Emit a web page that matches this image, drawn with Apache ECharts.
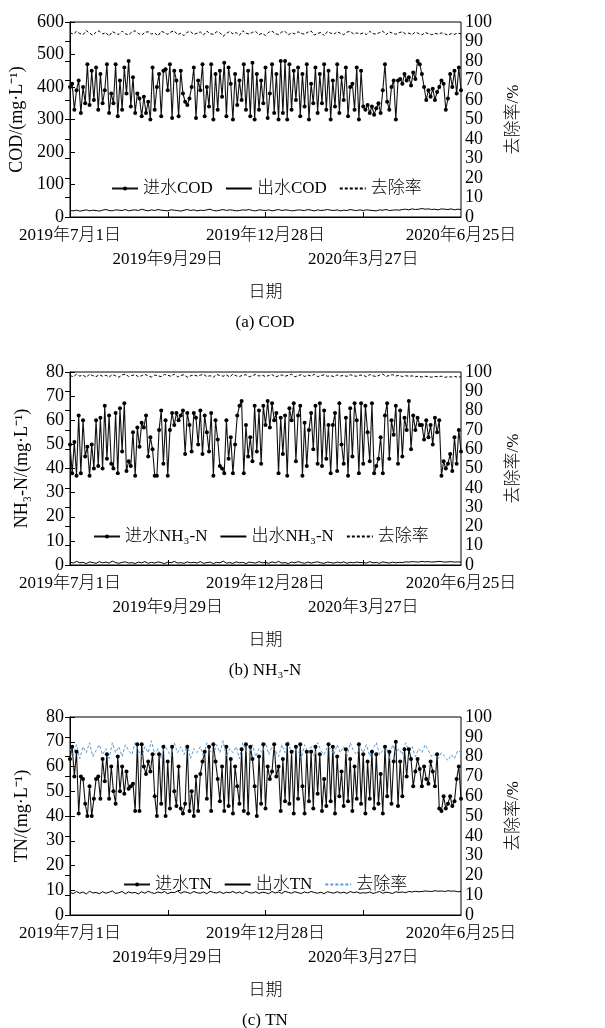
<!DOCTYPE html>
<html>
<head>
<meta charset="utf-8">
<script src="https://cdn.jsdelivr.net/npm/echarts@6/dist/echarts.min.js"></script>
<style>
  html, body { margin: 0; padding: 0; background: #fff; }
  #chart { width: 605px; height: 1028px; }
</style>
</head>
<body>
<div id="chart"></div>
<script>
// x 轴: 自 2019-07-01 起的天数, 每 90 天一个刻度
const xTickLabels = ['2019年7月1日', '2019年9月29日', '2019年12月28日', '2020年3月27日', '2020年6月25日'];

// 进水 (每 2 天一个点)
const codIn = [
  400, 410, 330, 390, 420, 320, 400, 350, 470, 345,
  450, 360, 460, 330, 440, 350, 390, 470, 320, 380,
  350, 470, 310, 420, 330, 460, 380, 480, 340, 430,
  320, 380, 365, 310, 370, 320, 355, 300, 460, 330,
  400, 440, 310, 450, 455, 390, 470, 305, 450, 420,
  310, 450, 380, 355, 345, 365, 400, 460, 305, 420,
  390, 470, 310, 400, 340, 470, 300, 440, 330, 450,
  370, 475, 310, 460, 410, 300, 440, 345, 420, 360,
  470, 330, 450, 310, 475, 300, 440, 330, 420, 350,
  460, 305, 380, 470, 320, 440, 300, 480, 320, 480,
  300, 470, 330, 450, 360, 460, 310, 440, 340, 470,
  300, 410, 350, 460, 320, 440, 350, 470, 330, 450,
  300, 420, 340, 470, 320, 430, 360, 460, 310, 400,
  410, 330, 460, 300, 450, 340,
  330, 345, 320, 340, 315, 335, 350, 320, 390,
  470, 355, 330, 400, 420,
  300, 420, 425, 410, 440, 420, 430, 405, 445, 425,
  480, 470, 440, 400, 360, 390, 370, 395, 360, 385,
  400, 420, 410, 330, 365, 440, 400, 450, 380, 460, 390
];
const nh3In = [
  50, 38, 51, 37, 62, 38, 60, 45, 49, 37,
  50, 40, 60, 41, 61, 40, 66, 44, 62, 42,
  40, 63, 38, 65, 47, 67, 39, 43, 41, 55,
  37, 57, 49, 59, 57, 62, 45, 53, 48, 37,
  37, 56, 64, 42, 60, 37, 56, 63, 58, 63,
  60, 62, 64, 46, 63, 58, 47, 63, 61, 50,
  64, 46, 62, 55, 47, 63, 37, 60, 52, 41,
  40, 38, 60, 44, 53, 38, 50, 62, 66, 68,
  38, 58, 45, 53, 43, 66, 47, 64, 42, 66,
  58, 68, 57, 67, 60, 63, 38, 61, 46, 62,
  37, 65, 60, 67, 43, 62, 66, 37, 59, 41,
  56, 63, 48, 66, 42, 67, 41, 64, 44, 58,
  38, 58, 63, 39, 67, 50, 42, 61, 37, 65,
  45, 67, 60, 38, 67, 42, 66, 55, 43, 67,
  38, 41, 44, 53, 38, 62, 67, 44, 60, 54,
  66, 42, 64, 45, 61, 56, 68, 48, 62, 56,
  61, 58, 58, 52, 60, 53, 58, 50, 61, 55,
  60, 37, 43, 40, 42, 46, 39, 53, 42, 56, 47
];
const tnIn = [
  63, 68, 56, 66, 41, 56, 55, 45, 40, 52,
  40, 47, 55, 56, 47, 63, 54, 65, 47, 60,
  50, 45, 64, 50, 60, 49, 58, 51, 52, 53,
  42, 69, 42, 69, 60, 57, 62, 58, 65, 48,
  40, 65, 45, 68, 40, 62, 43, 68, 50, 44,
  60, 43, 41, 45, 68, 42, 50, 40, 56, 42,
  57, 62, 66, 47, 68, 42, 69, 62, 55, 46,
  60, 42, 68, 44, 63, 41, 60, 52, 45, 67,
  42, 69, 41, 68, 63, 52, 40, 64, 45, 69,
  43, 60, 55, 58, 69, 56, 60, 42, 63, 46,
  69, 45, 66, 41, 68, 47, 69, 52, 41, 66,
  46, 66, 43, 68, 49, 65, 42, 55, 44, 69,
  46, 68, 41, 64, 48, 58, 44, 67, 46, 63,
  42, 60, 47, 69, 45, 65, 41, 62, 47, 66,
  43, 65, 45, 57, 41, 68, 48, 66, 45, 62,
  70, 44, 62, 48, 67, 56, 67, 63, 52, 58,
  63, 59, 52, 60, 55, 53, 62, 58, 52, 65,
  43, 42, 48, 43, 45, 48, 44, 46, 55, 60, 47
];

// 出水 (每 3 天一个点)
const codOut = [
  20, 19, 21, 18, 20, 22, 19, 21, 20, 18, 21, 23, 20, 19, 22, 21, 20, 23, 19, 21,
  22, 20, 24, 21, 19, 22, 20, 23, 21, 20, 19, 22, 21, 20, 18, 21, 23, 20, 22, 19,
  21, 20, 22, 24, 20, 19, 21, 23, 20, 22, 21, 19, 20, 22, 21, 23, 20, 19, 22, 21,
  20, 22, 19, 21, 23, 20, 22, 21, 19, 20, 22, 21, 20, 23, 21, 19, 22, 20, 21, 23,
  21, 20, 22, 19, 21, 20, 23, 21, 20, 22,
  20, 22, 21, 20, 19, 22, 21, 23, 20, 21, 22, 21, 23, 24, 22, 25, 23, 24, 26, 24,
  25, 23, 24, 22, 25, 24, 23, 25, 22, 24, 23
];
const nh3Out = [
  1.2, 0.8, 1.5, 0.9, 1.1, 0.6, 1.3, 1.0, 0.7, 1.4, 0.9, 1.2, 0.8, 1.6, 1.0, 0.7, 1.1, 1.3, 0.8, 1.0,
  0.6, 1.2, 0.9, 1.4, 0.7, 1.1, 0.8, 1.3, 1.0, 0.6, 1.2, 0.9, 1.5, 0.8, 1.0, 0.7, 1.3, 0.9, 1.1, 0.8,
  1.4, 0.7, 1.0, 1.2, 0.6, 1.1, 0.9, 1.6, 0.8, 1.0, 0.7, 1.3, 0.9, 1.1, 0.6, 1.2, 1.0, 0.8, 1.4, 0.9,
  1.1, 0.7, 1.3, 0.9, 1.5, 0.8, 1.0, 0.6, 1.2, 0.9, 1.4, 1.0, 0.7, 1.2, 0.8, 1.1, 1.3, 0.9, 0.7, 1.2,
  1.0, 0.8, 1.2, 0.9, 1.3, 0.7, 1.1, 0.9, 1.2, 1.0,
  1.0, 0.8, 1.4, 0.9, 1.1, 0.7, 1.3, 1.0, 0.8, 1.2, 0.9, 1.1, 1.0, 1.3, 1.2, 1.4, 1.3, 1.2, 1.5, 1.3,
  1.4, 1.2, 1.3, 1.5, 1.4, 1.2, 1.3, 1.4, 1.2, 1.3, 1.2
];
const tnOut = [
  9.2, 8.6, 9.5, 8.8, 9.3, 8.5, 9.6, 8.9, 9.1, 8.6, 9.4, 8.8, 9.2, 9.7, 8.7, 9.0, 9.5, 8.6, 9.3, 8.9,
  9.1, 8.5, 9.4, 8.8, 9.6, 9.0, 8.7, 9.3, 8.9, 9.5, 8.6, 9.2, 9.0, 9.7, 8.8, 9.4, 9.1, 8.7, 9.5, 9.0,
  8.8, 9.3, 8.6, 9.6, 9.1, 8.9, 9.4, 8.7, 9.2, 9.0, 9.5, 8.8, 9.3, 8.6, 9.7, 9.0, 8.9, 9.4, 8.7, 9.2,
  9.0, 8.6, 9.5, 8.9, 9.3, 8.7, 9.6, 9.1, 8.8, 9.4, 9.0, 8.7, 9.3, 8.9, 9.5, 9.1, 8.8, 9.2, 8.6, 9.4,
  9.1, 8.8, 9.4, 8.9, 9.2, 8.7, 9.5, 9.0, 9.3, 8.8,
  9.0, 8.9, 9.3, 8.7, 9.1, 9.5, 8.8, 9.2, 9.0, 8.7, 9.4, 9.1, 9.3, 9.0, 9.5, 9.3, 9.6, 9.4, 9.5, 9.7,
  9.6, 9.5, 9.8, 9.6, 9.7, 9.5, 9.8, 9.6, 9.7, 9.4, 9.5
];

// 去除率/% (每 3 天一个点)
const codRate = [
  94.5, 93.8, 95.2, 94.1, 93.5, 95.6, 94.3, 93.2, 94.8, 95.4, 93.9, 94.6, 92.8, 95.1, 94.2, 93.6, 95.3, 94.0, 93.4, 94.9,
  95.5, 94.1, 93.3, 94.7, 95.0, 93.8, 94.4, 92.9, 95.2, 94.6, 93.7, 94.9, 95.4, 93.5, 94.2, 93.0, 94.8, 95.1, 93.6, 94.3,
  94.9, 93.4, 95.3, 94.0, 93.7, 95.0, 94.5, 92.7, 94.1, 95.2, 93.9, 94.6, 93.2, 95.5, 94.3, 93.8, 94.7, 95.1, 93.5, 94.2,
  93.1, 94.8, 95.3, 94.0, 93.6, 94.9, 95.2, 93.4, 94.5, 93.9, 95.0, 94.2, 93.7, 94.8, 95.4, 93.3, 94.1, 94.7, 93.0, 95.1,
  94.3, 93.7, 95.0, 94.2, 93.5, 94.8, 95.2, 93.9, 94.4, 93.8,
  94.4, 93.6, 95.2, 94.0, 93.8, 94.6, 95.3, 93.5, 94.9, 94.2, 93.7, 94.5, 95.0, 93.9, 94.3, 93.6, 94.8, 94.1, 93.4, 94.6,
  94.0, 93.5, 94.2, 93.8, 94.4, 93.9, 93.2, 94.1, 93.7, 94.3, 93.9
];
const nh3Rate = [
  98.2, 97.5, 98.8, 97.9, 98.4, 97.2, 98.9, 98.1, 97.6, 98.6, 97.8, 98.3, 97.4, 98.7, 98.0, 97.3, 98.5, 98.9, 97.7, 98.2,
  98.6, 97.5, 98.1, 98.8, 97.9, 97.4, 98.4, 98.0, 97.6, 98.7, 98.3, 97.8, 98.9, 97.5, 98.2, 98.6, 97.3, 98.0, 98.5, 97.9,
  98.4, 98.8, 97.6, 98.1, 97.3, 98.7, 98.2, 97.8, 98.5, 97.4, 98.9, 98.0, 97.7, 98.3, 98.6, 97.5, 98.1, 98.8, 97.9, 98.4,
  97.6, 98.2, 98.7, 97.4, 98.0, 98.5, 97.8, 98.3, 98.9, 97.5, 98.1, 98.6, 97.7, 98.4, 97.9, 98.8, 97.6, 98.2, 98.5, 97.8,
  98.1, 97.6, 98.5, 97.9, 98.3, 97.7, 98.6, 98.0, 97.8, 98.4,
  98.3, 97.5, 98.7, 98.0, 97.6, 98.4, 98.9, 97.7, 98.2, 98.6, 97.9, 98.3, 97.6, 98.1, 97.8, 98.0, 97.5, 97.9, 97.4, 97.8,
  97.6, 97.3, 97.7, 97.5, 97.8, 97.2, 97.6, 97.4, 97.7, 97.3, 97.6
];
const tnRate = [
  84, 81, 86, 79, 85, 82, 87, 80, 83, 86, 81, 84, 79, 87, 82, 85, 80, 86, 83, 81,
  87, 83, 80, 85, 82, 88, 81, 84, 79, 86, 83, 80, 87, 82, 85, 81, 86, 79, 84, 82,
  85, 80, 87, 83, 81, 86, 82, 88, 80, 84, 82, 85, 79, 87, 83, 81, 86, 80, 84, 82,
  87, 81, 85, 83, 80, 86, 82, 88, 81, 84, 83, 79, 86, 82, 85, 80, 87, 83, 81, 85,
  84, 81, 86, 82, 85, 80, 87, 83, 81, 85,
  82, 86, 80, 84, 87, 81, 83, 85, 79, 86, 82, 84, 81, 87, 83, 85, 80, 84, 82, 86,
  83, 80, 81, 79, 82, 80, 78, 81, 79, 83, 82
];

const panels = [
  { name: 'COD', yName: 'COD/(mg·L⁻¹)', yMax: 600, yStep: 100, caption: '(a) COD',
    inName: '进水COD', outName: '出水COD', inData: codIn, outData: codOut, rate: codRate, rateColor: '#000' },
  { name: 'NH3', yName: 'NH₃-N/(mg·L⁻¹)', yMax: 80, yStep: 10, caption: '(b) NH₃-N',
    inName: '进水NH₃-N', outName: '出水NH₃-N', inData: nh3In, outData: nh3Out, rate: nh3Rate, rateColor: '#000' },
  { name: 'TN', yName: 'TN/(mg·L⁻¹)', yMax: 80, yStep: 10, caption: '(c) TN',
    inName: '进水TN', outName: '出水TN', inData: tnIn, outData: tnOut, rate: tnRate, rateColor: '#5B9BD5' }
];

const gridBoxes = [
  { top: 22, height: 195, legendTop: 175, legendLeft: 106 },
  { top: 372, height: 193, legendTop: 523, legendLeft: 88 },
  { top: 717, height: 198, legendTop: 871, legendLeft: 118 }
];

const FONT = "'Liberation Serif', 'Noto Sans CJK SC', serif";
const text = { fontFamily: FONT, fontSize: 17, fontWeight: 300, color: '#000' };
const numText = Object.assign({}, text, { fontSize: 18 });

const toPairs = (arr, step) => arr.map((v, i) => [i * step, v]);

const option = {
  animation: false,
  backgroundColor: '#fff',
  textStyle: { fontFamily: FONT },
  grid: [],
  xAxis: [],
  yAxis: [],
  legend: [],
  series: [],
  graphic: []
};

panels.forEach((p, k) => {
  const g = gridBoxes[k];
  option.grid.push({
    left: 70, right: 144, top: g.top, height: g.height,
    show: true, borderColor: '#000', borderWidth: 1,
    outerBoundsMode: 'none'
  });
  // 第一行刻度标签: 7月1日 / 12月28日 / 6月25日
  option.xAxis.push({
    type: 'value', gridIndex: k, position: 'bottom', min: 0, max: 360, interval: 180,
    name: '日期', nameLocation: 'middle', nameGap: 67, nameTextStyle: text,
    axisLine: { lineStyle: { color: '#000', width: 1 } },
    axisTick: { show: false },
    splitLine: { show: false },
    axisLabel: Object.assign({}, text, {
      margin: 10, showMinLabel: true, showMaxLabel: true,
      formatter: (v) => xTickLabels[Math.round(v / 90)]
    })
  });
  // 第二行刻度标签: 9月29日 / 3月27日, 刻度线每 90 天
  option.xAxis.push({
    type: 'value', gridIndex: k, position: 'bottom', min: 0, max: 360, interval: 90,
    axisLine: { show: false },
    axisTick: { inside: true, length: 5, lineStyle: { color: '#000' } },
    splitLine: { show: false },
    axisLabel: Object.assign({}, text, {
      margin: 34, showMinLabel: false, showMaxLabel: false,
      formatter: (v) => {
        const idx = Math.round(v / 90);
        return idx % 2 ? xTickLabels[idx] : '';
      }
    })
  });
  option.yAxis.push({
    type: 'value', gridIndex: k, position: 'left', min: 0, max: p.yMax, interval: p.yStep,
    name: p.yName, nameLocation: 'middle', nameGap: 39, nameRotate: 90, nameTextStyle: numText,
    axisLine: { show: true, lineStyle: { color: '#000' } },
    axisTick: { inside: true, length: 5, lineStyle: { color: '#000' } },
    splitLine: { show: false },
    axisLabel: Object.assign({}, numText, { margin: 6, showMinLabel: true, showMaxLabel: true })
  });
  option.yAxis.push({
    type: 'value', gridIndex: k, position: 'right', min: 0, max: 100, interval: 10,
    name: '去除率/%', nameLocation: 'middle', nameGap: 44, nameRotate: 90, nameTextStyle: text,
    axisLine: { show: true, lineStyle: { color: '#000' } },
    axisTick: { inside: true, length: 5, lineStyle: { color: '#000' } },
    splitLine: { show: false },
    axisLabel: Object.assign({}, numText, { margin: 4, showMinLabel: true, showMaxLabel: true })
  });

  // 出水与去除率的图例只画线, 不画点
  option.legend.push({
    data: [
      { name: p.inName },
      { name: p.outName, itemStyle: { opacity: 0 } },
      { name: p.name + '去除率', itemStyle: { opacity: 0 } }
    ],
    formatter: (n) => n.endsWith('去除率') ? '去除率' : n,
    left: g.legendLeft, top: g.legendTop,
    itemWidth: 26, itemHeight: 5, itemGap: 12,
    textStyle: text
  });

  option.series.push({
    name: p.inName, type: 'line', xAxisIndex: 2 * k, yAxisIndex: 2 * k,
    data: toPairs(p.inData, 2),
    symbol: 'circle', symbolSize: 4,
    itemStyle: { color: '#000' },
    lineStyle: { color: '#111', width: 1.1 }
  });
  option.series.push({
    name: p.outName, type: 'line', xAxisIndex: 2 * k, yAxisIndex: 2 * k,
    data: toPairs(p.outData, 3),
    symbol: 'none',
    itemStyle: { color: '#000' },
    lineStyle: { color: '#000', width: 1 }
  });
  option.series.push({
    name: p.name + '去除率', type: 'line', xAxisIndex: 2 * k, yAxisIndex: 2 * k + 1,
    data: toPairs(p.rate, 3),
    symbol: 'none',
    itemStyle: { color: p.rateColor },
    lineStyle: { color: p.rateColor, width: 1, type: [3, 2] }
  });

  option.graphic.push({
    type: 'text', x: 265, y: g.top + g.height + 106,
    style: { text: p.caption, fill: '#000', font: '300 17px ' + FONT, textAlign: 'center', textVerticalAlign: 'middle' }
  });
});

const chart = echarts.init(document.getElementById('chart'));
chart.setOption(option);
</script>
</body>
</html>
